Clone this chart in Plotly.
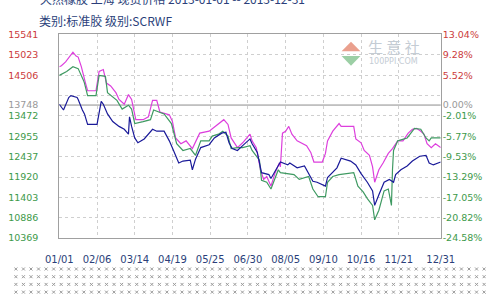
import numpy as np
import plotly.graph_objects as go

# ---------------- data ----------------
mag_dates = ["2013-01-01","2013-01-03","2013-01-07","2013-01-14","2013-01-17","2013-01-19","2013-01-22","2013-01-24",
             "2013-01-26","2013-01-28","2013-02-05","2013-02-08","2013-02-12","2013-02-15","2013-02-19","2013-02-24",
             "2013-02-27","2013-03-04","2013-03-08","2013-03-11","2013-03-15","2013-03-22","2013-03-27","2013-03-31",
             "2013-04-04","2013-04-07","2013-04-16","2013-04-19","2013-04-22","2013-04-27","2013-05-02","2013-05-08",
             "2013-05-15","2013-05-24","2013-06-02","2013-06-07","2013-06-11","2013-06-14","2013-06-20","2013-06-25",
             "2013-07-02","2013-07-04","2013-07-08","2013-07-12","2013-07-15","2013-07-18","2013-07-22","2013-07-26",
             "2013-07-30","2013-07-31","2013-08-02","2013-08-05","2013-08-08","2013-08-11","2013-08-16","2013-08-20",
             "2013-08-25","2013-08-29","2013-09-01","2013-09-09","2013-09-12","2013-09-14","2013-09-19","2013-09-25",
             "2013-09-27","2013-10-09","2013-10-11","2013-10-16","2013-10-19","2013-10-24","2013-10-27","2013-10-29",
             "2013-11-02","2013-11-06","2013-11-11","2013-11-15","2013-11-20","2013-11-25","2013-11-30","2013-12-04",
             "2013-12-08","2013-12-12","2013-12-15","2013-12-18","2013-12-22","2013-12-26","2013-12-31"]
mag_vals = [14722,14746,14844,15089,14991,14966,14722,14477,
            14306,14111,14111,14600,14649,14306,14233,14062,
            13891,13768,14013,13891,13377,13377,13450,13866,
            13866,13573,13499,13328,12913,12766,12839,12644,
            13035,13084,13279,13377,13255,12913,12668,12790,
            13010,12839,12668,12105,11861,11934,11690,12032,
            12277,12179,13035,13084,13206,13010,12839,12790,
            12717,12546,12301,12301,12521,12839,13084,13279,
            13206,13206,12888,12790,12595,12472,12179,11788,
            12105,12277,12521,12644,12839,12839,13035,13133,
            13157,13084,13010,12766,12668,12766,12668]

grn_dates = ["2013-01-01","2013-01-08","2013-01-14","2013-01-19","2013-01-24","2013-01-25","2013-01-28","2013-02-05",
             "2013-02-08","2013-02-14","2013-02-16","2013-02-25","2013-03-02","2013-03-08","2013-03-11","2013-03-14",
             "2013-03-22","2013-03-29","2013-04-01","2013-04-11","2013-04-18","2013-04-23","2013-04-29","2013-05-06",
             "2013-05-11","2013-05-16","2013-05-24","2013-05-27","2013-06-02","2013-06-06","2013-06-11","2013-06-14",
             "2013-06-20","2013-06-25","2013-07-02","2013-07-04","2013-07-11","2013-07-13","2013-07-18","2013-07-22",
             "2013-07-29","2013-07-31","2013-08-13","2013-08-18","2013-08-27","2013-08-31","2013-09-05","2013-09-12",
             "2013-09-14","2013-09-19","2013-09-25","2013-10-09","2013-10-13","2013-10-18","2013-10-22","2013-10-27",
             "2013-10-29","2013-11-02","2013-11-05","2013-11-07","2013-11-11","2013-11-14","2013-11-15","2013-11-16",
             "2013-11-20","2013-11-29","2013-12-06","2013-12-12","2013-12-17","2013-12-20","2013-12-22","2013-12-31"]
grn_vals = [14502,14600,14722,14673,14380,14306,13988,13988,
            14502,14477,14062,13866,13646,13744,13646,13279,
            13328,13377,13622,13524,13279,12766,12595,12644,
            12472,12839,12839,12961,13010,13084,12961,12644,
            12668,12668,12717,12595,12350,11837,11788,11617,
            12105,12032,11983,11861,11934,11617,11421,11421,
            11788,11934,11983,12032,11690,11543,11372,11201,
            10834,11079,11372,11568,11617,11201,12105,12595,
            12839,12913,13157,13133,12913,12839,12913,12913]

blu_dates = ["2013-01-01","2013-01-03","2013-01-05","2013-01-10","2013-01-12","2013-01-18","2013-01-19","2013-01-23",
             "2013-01-25","2013-01-28","2013-02-06","2013-02-10","2013-02-12","2013-02-16","2013-02-21","2013-02-27",
             "2013-03-04","2013-03-08","2013-03-09","2013-03-11","2013-03-14","2013-03-17","2013-03-23","2013-03-31",
             "2013-04-04","2013-04-11","2013-04-16","2013-04-20","2013-04-25","2013-04-29","2013-05-06","2013-05-08",
             "2013-05-11","2013-05-16","2013-05-24","2013-05-29","2013-06-05","2013-06-09","2013-06-12","2013-06-15",
             "2013-06-20","2013-06-25","2013-07-02","2013-07-04","2013-07-09","2013-07-13","2013-07-20","2013-07-22",
             "2013-07-29","2013-07-31","2013-08-07","2013-08-09","2013-08-16","2013-08-23","2013-08-31","2013-09-04",
             "2013-09-12","2013-09-14","2013-09-23","2013-09-27","2013-10-06","2013-10-11","2013-10-16","2013-10-22",
             "2013-10-27","2013-10-29","2013-11-02","2013-11-05","2013-11-07","2013-11-12","2013-11-16","2013-11-18",
             "2013-11-23","2013-11-29","2013-12-04","2013-12-11","2013-12-17","2013-12-20","2013-12-24","2013-12-31"]
blu_vals = [13768,13695,13622,13940,13988,13940,13891,13622,
            13524,13255,13255,13842,13768,13524,13328,13206,
            13133,13010,13450,13206,12913,12790,12888,13133,
            13084,13084,12839,12595,12277,12326,12350,12105,
            12375,12668,12741,12913,13035,13059,12790,12644,
            12595,12717,12888,12766,12546,12032,11983,11885,
            12228,12301,12228,12277,12154,12203,11812,11788,
            11690,11910,12154,12399,12326,12228,12008,11788,
            11568,11201,11470,11690,11788,11861,11788,11983,
            12105,12203,12326,12448,12472,12277,12228,12301]

base_price = 13748
left_ticks = [15541, 15023, 14506, 13748, 13472, 12955, 12437, 11920, 11403, 10886, 10369]
right_labels = ["13.04%", "9.28%", "5.52%", "0.00%", "-2.01%", "-5.77%", "-9.53%", "-13.29%", "-17.05%", "-20.82%", "-24.58%"]
grid_vals = [10369, 10886, 11403, 11920, 12437, 12955, 13472, 13989, 14506, 15023, 15541]
x_tick_dates = ["2013-01-01","2013-02-06","2013-03-14","2013-04-19","2013-05-25","2013-06-30",
                "2013-08-05","2013-09-10","2013-10-16","2013-11-21","2013-12-31"]
x_tick_text = ["01/01","02/06","03/14","04/19","05/25","06/30","08/05","09/10","10/16","11/21","12/31"]

# ---------------- styling ----------------
RED = "#cc3b3b"
GRN = "#3d9a4a"
GRY = "#999999"
FONT = "DejaVu Sans"

def col(v):
    if v > base_price:
        return RED
    if v == base_price:
        return GRY
    return GRN

left_text = ['<span style="color:%s">%d</span>' % (col(v), v) for v in left_ticks]
right_text = ['<span style="color:%s">%s</span>' % (col(v), t) for v, t in zip(left_ticks, right_labels)]

XD = [48 / 500, 452 / 500]
YD = [(300 - 241) / 300, (300 - 29.5) / 300]
yr = [10369, 15541]
xr = ["2013-01-01", "2013-12-31"]

fig = go.Figure()

# background dotted page pattern (decoration)
dx, dy = np.meshgrid(np.arange(2, 500, 8), np.array([273, 281, 289, 297]))
fig.add_trace(go.Scatter(x=dx.ravel(), y=dy.ravel(), mode="markers", xaxis="x2", yaxis="y4",
                         marker=dict(symbol="x-thin", size=3, color="#9a9a9a", line=dict(width=1, color="#9a9a9a")),
                         hoverinfo="skip", showlegend=False))

fig.add_trace(go.Scatter(x=mag_dates, y=mag_vals, mode="lines", line=dict(color="#dd3fdd", width=1.2),
                         showlegend=False))
fig.add_trace(go.Scatter(x=grn_dates, y=grn_vals, mode="lines", line=dict(color="#3f9a62", width=1.2),
                         showlegend=False))
fig.add_trace(go.Scatter(x=blu_dates, y=blu_vals, mode="lines", line=dict(color="#1a1a99", width=1.2),
                         showlegend=False))
# invisible traces for the overlay axes
fig.add_trace(go.Scatter(x=[xr[0]], y=[yr[0]], yaxis="y3", mode="markers", marker=dict(opacity=0),
                         hoverinfo="skip", showlegend=False))
fig.add_trace(go.Scatter(x=[xr[0]], y=[yr[0]], yaxis="y2", mode="markers", marker=dict(opacity=0),
                         hoverinfo="skip", showlegend=False))

fig.add_hline(y=base_price, line=dict(color="#8c8c8c", width=1), layer="below")

fig.update_layout(
    width=500, height=300, autosize=False,
    margin=dict(l=0, r=0, t=0, b=0, pad=0),
    paper_bgcolor="white", plot_bgcolor="rgba(0,0,0,0)",
    showlegend=False,
    font=dict(family=FONT, size=10, color="#333"),
    xaxis=dict(domain=XD, type="date", range=xr, tickvals=x_tick_dates, ticktext=x_tick_text,
               showgrid=True, gridcolor="#cfcfcf", griddash="dot", gridwidth=1,
               showline=True, linecolor="#a0a0a0", linewidth=1, mirror=True,
               ticks="", ticklabelstandoff=12, tickfont=dict(family=FONT, size=10, color="#2b3f7a"),
               zeroline=False, fixedrange=True),
    yaxis=dict(domain=YD, range=yr, tickvals=left_ticks, ticktext=left_text, showgrid=False,
               showline=True, linecolor="#a0a0a0", linewidth=1, mirror=True, zeroline=False,
               ticks="", ticklabelstandoff=18, tickfont=dict(family=FONT, size=9.5)),
    yaxis2=dict(overlaying="y", side="right", range=yr, tickvals=left_ticks, ticktext=right_text,
                showgrid=False, zeroline=False, showline=False, ticks="", ticklabelstandoff=1,
                tickfont=dict(family=FONT, size=9.5)),
    yaxis3=dict(overlaying="y", range=yr, tickvals=grid_vals, showticklabels=False, showgrid=True,
                gridcolor="#cfcfcf", griddash="dot", gridwidth=1, zeroline=False, showline=False, ticks=""),
    xaxis2=dict(domain=[0, 1], range=[0, 500], visible=False, anchor="y4", fixedrange=True),
    yaxis4=dict(domain=[0, 1], range=[300, 0], visible=False, anchor="x2", fixedrange=True),
)

# titles
fig.add_annotation(text="天然橡胶 上海 现货价格 2013-01-01 -- 2013-12-31", xref="paper", yref="paper",
                   x=25 / 500, y=1 + 8 / 300, xanchor="left", yanchor="middle", showarrow=False,
                   font=dict(family="Noto Sans CJK SC", size=12, color="#2b3f7a"))
fig.add_annotation(text="类别:标准胶 级别:SCRWF", xref="paper", yref="paper",
                   x=24 / 500, y=1 - 15 / 300, xanchor="left", yanchor="middle", showarrow=False,
                   font=dict(family="Noto Sans CJK SC", size=12, color="#2b3f7a"))

# watermark
fig.add_annotation(text="生 意 社", xref="paper", yref="paper", x=373 / 500, y=1 - 42 / 300,
                   xanchor="left", yanchor="middle", showarrow=False,
                   font=dict(family="Noto Sans CJK SC", size=15, color="#c4ccd4"))
fig.add_annotation(text="100PPI.COM", xref="paper", yref="paper", x=374 / 500, y=1 - 58 / 300,
                   xanchor="left", yanchor="middle", showarrow=False,
                   font=dict(family=FONT, size=8, color="#c4ccd4"))
fig.add_shape(type="path", xref="paper", yref="paper",
              path="M %f %f L %f %f L %f %f Z" % (347 / 500, 1 - 47 / 300, 357 / 500, 1 - 37 / 300, 367 / 500, 1 - 47 / 300),
              fillcolor="#eaa08e", line=dict(width=0))
fig.add_shape(type="path", xref="paper", yref="paper",
              path="M %f %f L %f %f L %f %f Z" % (347 / 500, 1 - 52 / 300, 357 / 500, 1 - 62 / 300, 367 / 500, 1 - 52 / 300),
              fillcolor="#9ccfa5", line=dict(width=0))

fig.write_html("out.html")
